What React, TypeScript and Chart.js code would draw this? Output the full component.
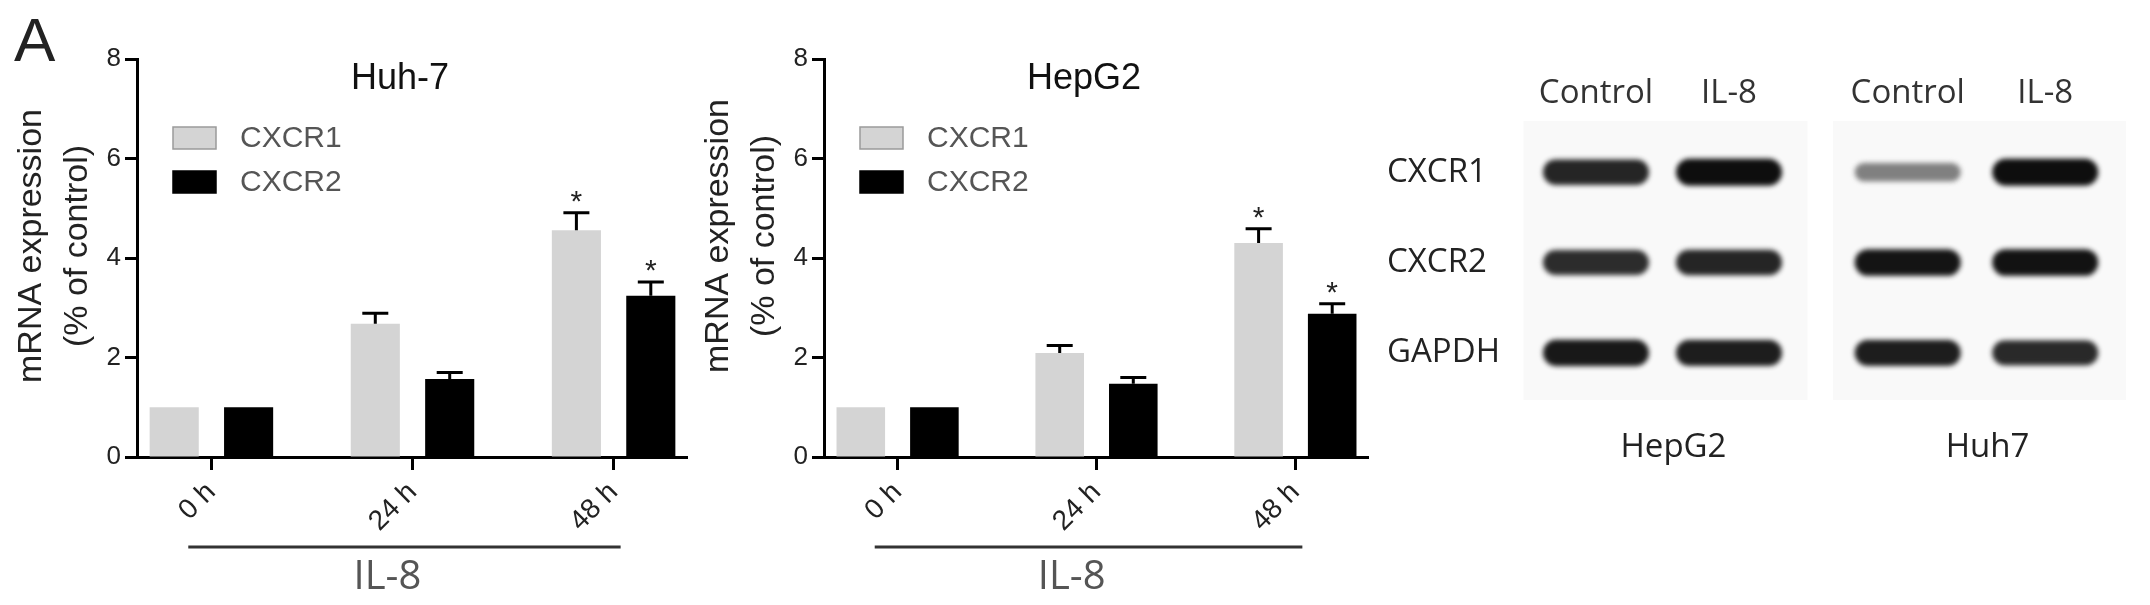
import React, { useEffect, useRef } from 'react';
import { Chart, registerables } from 'chart.js';

Chart.register(...registerables);

// ---- bar chart data ----
const timeLabels = ['0 h', '24 h', '48 h'];
const seriesNames = ['CXCR1', 'CXCR2'];
const yTicks = [0, 2, 4, 6, 8];

const huh7Cxcr1 = [1.0, 2.68, 4.56];
const huh7Cxcr1Err = [0, 0.21, 0.35];
const huh7Cxcr2 = [1.0, 1.57, 3.24];
const huh7Cxcr2Err = [0, 0.13, 0.28];

const hepg2Cxcr1 = [1.0, 2.09, 4.3];
const hepg2Cxcr1Err = [0, 0.15, 0.29];
const hepg2Cxcr2 = [1.0, 1.47, 2.88];
const hepg2Cxcr2Err = [0, 0.13, 0.2];

const significant = [false, false, true];
const treatmentLabel = 'IL-8';
const yTitleLines = ['mRNA expression', '(% of control)'];

// ---- western blot data (band darkness 0..1, lanes Control / IL-8) ----
const blotLanes = ['Control', 'IL-8'];
const blotProteins = ['CXCR1', 'CXCR2', 'GAPDH'];
const hepg2BandCxcr1 = [0.88, 1.0];
const hepg2BandCxcr2 = [0.84, 0.88];
const hepg2BandGapdh = [0.95, 0.92];
const huh7BandCxcr1 = [0.4, 1.0];
const huh7BandCxcr2 = [0.97, 0.98];
const huh7BandGapdh = [0.92, 0.86];

const ARIAL = '"Liberation Sans", Arial, Helvetica, sans-serif';
const OPEN = '"Open Sans", "Liberation Sans", sans-serif';

function BarPanel(props: any) {
  const { title, cxcr1, cxcr1Err, cxcr2, cxcr2Err, showLetter, left, width, yAxisWidth, padRight, yTitleShift } = props;
  const ref = useRef<HTMLCanvasElement>(null);
  useEffect(() => {
    const errs = [cxcr1Err, cxcr2Err];
    const extras = {
      id: 'extras',
      afterDatasetsDraw(chart: any) {
        const ctx = chart.ctx;
        const ys = chart.scales.y;
        chart.data.datasets.forEach((ds: any, di: number) => {
          const meta = chart.getDatasetMeta(di);
          meta.data.forEach((el: any, i: number) => {
            const v = ds.data[i].y;
            const e = errs[di][i];
            if (e > 0) {
              const yTop = ys.getPixelForValue(v + e);
              ctx.save();
              ctx.strokeStyle = '#000';
              ctx.lineWidth = 3;
              ctx.beginPath();
              ctx.moveTo(el.x, el.y);
              ctx.lineTo(el.x, yTop);
              ctx.moveTo(el.x - 13, yTop);
              ctx.lineTo(el.x + 13, yTop);
              ctx.stroke();
              if (significant[i]) {
                ctx.fillStyle = '#222';
                ctx.font = '30px ' + ARIAL;
                ctx.textAlign = 'center';
                ctx.textBaseline = 'alphabetic';
                ctx.fillText('*', el.x, yTop - 2);
              }
              ctx.restore();
            }
          });
        });
      },
      afterDraw(chart: any) {
        const ctx = chart.ctx;
        const area = chart.chartArea;
        const xs = chart.scales.x;
        ctx.save();
        // title
        ctx.fillStyle = '#111';
        ctx.font = '36px ' + ARIAL;
        ctx.textAlign = 'center';
        ctx.textBaseline = 'alphabetic';
        ctx.fillText(title, (area.left + area.right) / 2 - 12, area.top + 30);
        // legend
        chart.data.datasets.forEach((ds: any, di: number) => {
          const bx = area.left + 36;
          const by = area.top + 68 + di * 44;
          ctx.fillStyle = ds.backgroundColor;
          ctx.fillRect(bx, by, 43, 22);
          ctx.strokeStyle = di === 0 ? '#9a9a9a' : '#000';
          ctx.lineWidth = 1.5;
          ctx.strokeRect(bx, by, 43, 22);
          ctx.fillStyle = '#555';
          ctx.font = '30px ' + ARIAL;
          ctx.textAlign = 'left';
          ctx.textBaseline = 'middle';
          ctx.fillText(ds.label, bx + 43 + 24, by + 12);
        });
        // y title
        ctx.fillStyle = '#222';
        ctx.font = '34px ' + ARIAL;
        ctx.textAlign = 'center';
        ctx.textBaseline = 'middle';
        const cy = (area.top + area.bottom) / 2 + yTitleShift;
        [-105, -59].forEach((dx, k) => {
          ctx.save();
          ctx.translate(area.left + dx, cy);
          ctx.rotate(-Math.PI / 2);
          ctx.fillText(yTitleLines[k], 0, 0);
          ctx.restore();
        });
        // treatment bracket
        ctx.strokeStyle = '#333';
        ctx.lineWidth = 3;
        ctx.beginPath();
        ctx.moveTo(xs.getPixelForValue(-0.115), area.bottom + 90);
        ctx.lineTo(xs.getPixelForValue(2.035), area.bottom + 90);
        ctx.stroke();
        ctx.fillStyle = '#555';
        ctx.font = '40px ' + OPEN;
        ctx.textAlign = 'center';
        ctx.textBaseline = 'alphabetic';
        ctx.fillText(treatmentLabel, xs.getPixelForValue(0.875), area.bottom + 132);
        if (showLetter) {
          ctx.fillStyle = '#222';
          ctx.font = '62px ' + ARIAL;
          ctx.textAlign = 'left';
          ctx.fillText('A', 14 - left, 61);
        }
        ctx.restore();
      },
    };
    const chart = new Chart(ref.current as HTMLCanvasElement, {
      type: 'bar',
      data: {
        datasets: [
          {
            label: seriesNames[0],
            data: cxcr1.map((v: number, i: number) => ({ x: i, y: v })),
            backgroundColor: '#d4d4d4',
            borderWidth: 0,
            categoryPercentage: 0.74,
            barPercentage: 0.66,
          },
          {
            label: seriesNames[1],
            data: cxcr2.map((v: number, i: number) => ({ x: i, y: v })),
            backgroundColor: '#000',
            borderWidth: 0,
            categoryPercentage: 0.74,
            barPercentage: 0.66,
          },
        ],
      } as any,
      options: {
        animation: false,
        responsive: false,
        devicePixelRatio: 1,
        layout: { padding: { left: 0, top: 59, right: padRight, bottom: 0 } },
        plugins: { legend: { display: false }, tooltip: { enabled: false } },
        scales: {
          x: {
            type: 'linear',
            min: -0.37,
            max: 2.365,
            offset: false,
            afterBuildTicks: (s: any) => {
              s.ticks = timeLabels.map((_, i) => ({ value: i }));
            },
            afterFit: (s: any) => {
              s.height = 148;
              s.paddingLeft = 0;
              s.paddingRight = 0;
            },
            grid: {
              display: true,
              offset: false,
              drawOnChartArea: false,
              drawTicks: true,
              tickLength: 13,
              tickWidth: 3,
              tickColor: '#000',
            },
            border: { display: true, color: '#000', width: 3 },
            ticks: {
              callback: (v: any) => timeLabels[Math.round(v)],
              minRotation: 45,
              maxRotation: 45,
              autoSkip: false,
              font: { family: ARIAL, size: 28 },
              color: '#222',
              padding: 6,
            },
          },
          y: {
            min: 0,
            max: 8,
            afterBuildTicks: (s: any) => {
              s.ticks = yTicks.map((v) => ({ value: v }));
            },
            afterFit: (s: any) => {
              s.width = yAxisWidth;
            },
            grid: { display: true, drawOnChartArea: false, drawTicks: true, tickLength: 12, tickWidth: 3, tickColor: '#000' },
            border: { display: true, color: '#000', width: 3 },
            ticks: { font: { family: ARIAL, size: 26 }, color: '#222', padding: 4 },
          },
        },
      } as any,
      plugins: [extras],
    });
    return () => chart.destroy();
  }, []);
  return (
    <div style={{ position: 'absolute', left, top: 0, width, height: 605 }}>
      <canvas ref={ref} width={width} height={605} style={{ width, height: 605, display: 'block' }} />
    </div>
  );
}

function makeBand(intensity: number) {
  const c = document.createElement('canvas');
  c.width = 140;
  c.height = 60;
  const g = c.getContext('2d') as CanvasRenderingContext2D;
  g.filter = 'blur(2.5px)';
  const w = 106;
  const h = 13 + 14 * intensity;
  const shade = Math.round(14 + (1 - intensity) * 190);
  g.fillStyle = `rgb(${shade},${shade},${shade})`;
  const x0 = (c.width - w) / 2;
  const y0 = (c.height - h) / 2;
  const r = h / 2;
  g.beginPath();
  g.moveTo(x0 + r, y0);
  g.lineTo(x0 + w - r, y0);
  g.arc(x0 + w - r, y0 + r, r, -Math.PI / 2, Math.PI / 2);
  g.lineTo(x0 + r, y0 + h);
  g.arc(x0 + r, y0 + r, r, Math.PI / 2, (3 * Math.PI) / 2);
  g.closePath();
  g.fill();
  return c;
}

function BlotPanel(props: any) {
  const { left, width, bands, cellLine, showRowLabels, padLeft, padRight, yAxisWidth } = props;
  const ref = useRef<HTMLCanvasElement>(null);
  useEffect(() => {
    const data: any[] = [];
    const styles: any[] = [];
    bands.forEach((row: number[], r: number) =>
      row.forEach((v: number, l: number) => {
        data.push({ x: blotLanes[l], y: blotProteins[r] });
        styles.push(makeBand(v));
      })
    );
    const extras = {
      id: 'blotExtras',
      beforeDatasetsDraw(chart: any) {
        const ctx = chart.ctx;
        const a = chart.chartArea;
        ctx.save();
        ctx.fillStyle = '#f9f9f9';
        ctx.fillRect(a.left - 6, a.top - 6, a.right - a.left + 18, a.bottom - a.top + 8);
        ctx.restore();
      },
      afterDraw(chart: any) {
        const ctx = chart.ctx;
        const a = chart.chartArea;
        ctx.save();
        ctx.fillStyle = '#222';
        ctx.font = '33px ' + OPEN;
        ctx.textAlign = 'center';
        ctx.textBaseline = 'alphabetic';
        ctx.fillText(cellLine, (a.left + a.right) / 2 + 11, a.bottom + 59);
        ctx.restore();
      },
    };
    const chart = new Chart(ref.current as HTMLCanvasElement, {
      type: 'scatter',
      data: {
        datasets: [{ data, pointStyle: styles, pointRadius: 10, borderWidth: 0 }],
      } as any,
      options: {
        animation: false,
        responsive: false,
        devicePixelRatio: 1,
        layout: { padding: { left: padLeft, right: padRight, top: 0, bottom: 605 - 398 } },
        plugins: { legend: { display: false }, tooltip: { enabled: false } },
        scales: {
          x: {
            type: 'category',
            labels: blotLanes,
            position: 'top',
            offset: true,
            afterFit: (s: any) => {
              s.height = 127;
            },
            grid: { display: false },
            border: { display: false },
            ticks: { font: { family: OPEN, size: 33 }, color: '#333', padding: 6 },
          },
          y: {
            type: 'category',
            labels: blotProteins,
            offset: true,
            display: showRowLabels,
            afterFit: (s: any) => {
              s.width = yAxisWidth;
            },
            grid: { display: false },
            border: { display: false },
            ticks: { font: { family: OPEN, size: 33 }, color: '#222', crossAlign: 'far' },
          },
        },
      } as any,
      plugins: [extras],
    });
    return () => chart.destroy();
  }, []);
  return (
    <div style={{ position: 'absolute', left, top: 0, width, height: 605 }}>
      <canvas ref={ref} width={width} height={605} style={{ width, height: 605, display: 'block' }} />
    </div>
  );
}

export default function App() {
  return (
    <div style={{ position: 'absolute', left: 0, top: 0, width: 2150, height: 605, background: '#fff', overflow: 'hidden' }}>
      <BarPanel
        title="Huh-7"
        cxcr1={huh7Cxcr1}
        cxcr1Err={huh7Cxcr1Err}
        cxcr2={huh7Cxcr2}
        cxcr2Err={huh7Cxcr2Err}
        showLetter={true}
        left={0}
        width={700}
        yAxisWidth={137}
        padRight={13}
        yTitleShift={-12}
      />
      <BarPanel
        title="HepG2"
        cxcr1={hepg2Cxcr1}
        cxcr1Err={hepg2Cxcr1Err}
        cxcr2={hepg2Cxcr2}
        cxcr2Err={hepg2Cxcr2Err}
        showLetter={false}
        left={700}
        width={690}
        yAxisWidth={124}
        padRight={22}
        yTitleShift={-22}
      />
      <BlotPanel
        left={1380}
        width={430}
        bands={[hepg2BandCxcr1, hepg2BandCxcr2, hepg2BandGapdh]}
        cellLine="HepG2"
        showRowLabels={true}
        padLeft={7}
        padRight={14.5}
        yAxisWidth={142.5}
      />
      <BlotPanel
        left={1810}
        width={340}
        bands={[huh7BandCxcr1, huh7BandCxcr2, huh7BandGapdh]}
        cellLine="Huh7"
        showRowLabels={false}
        padLeft={29}
        padRight={36}
        yAxisWidth={0}
      />
    </div>
  );
}
